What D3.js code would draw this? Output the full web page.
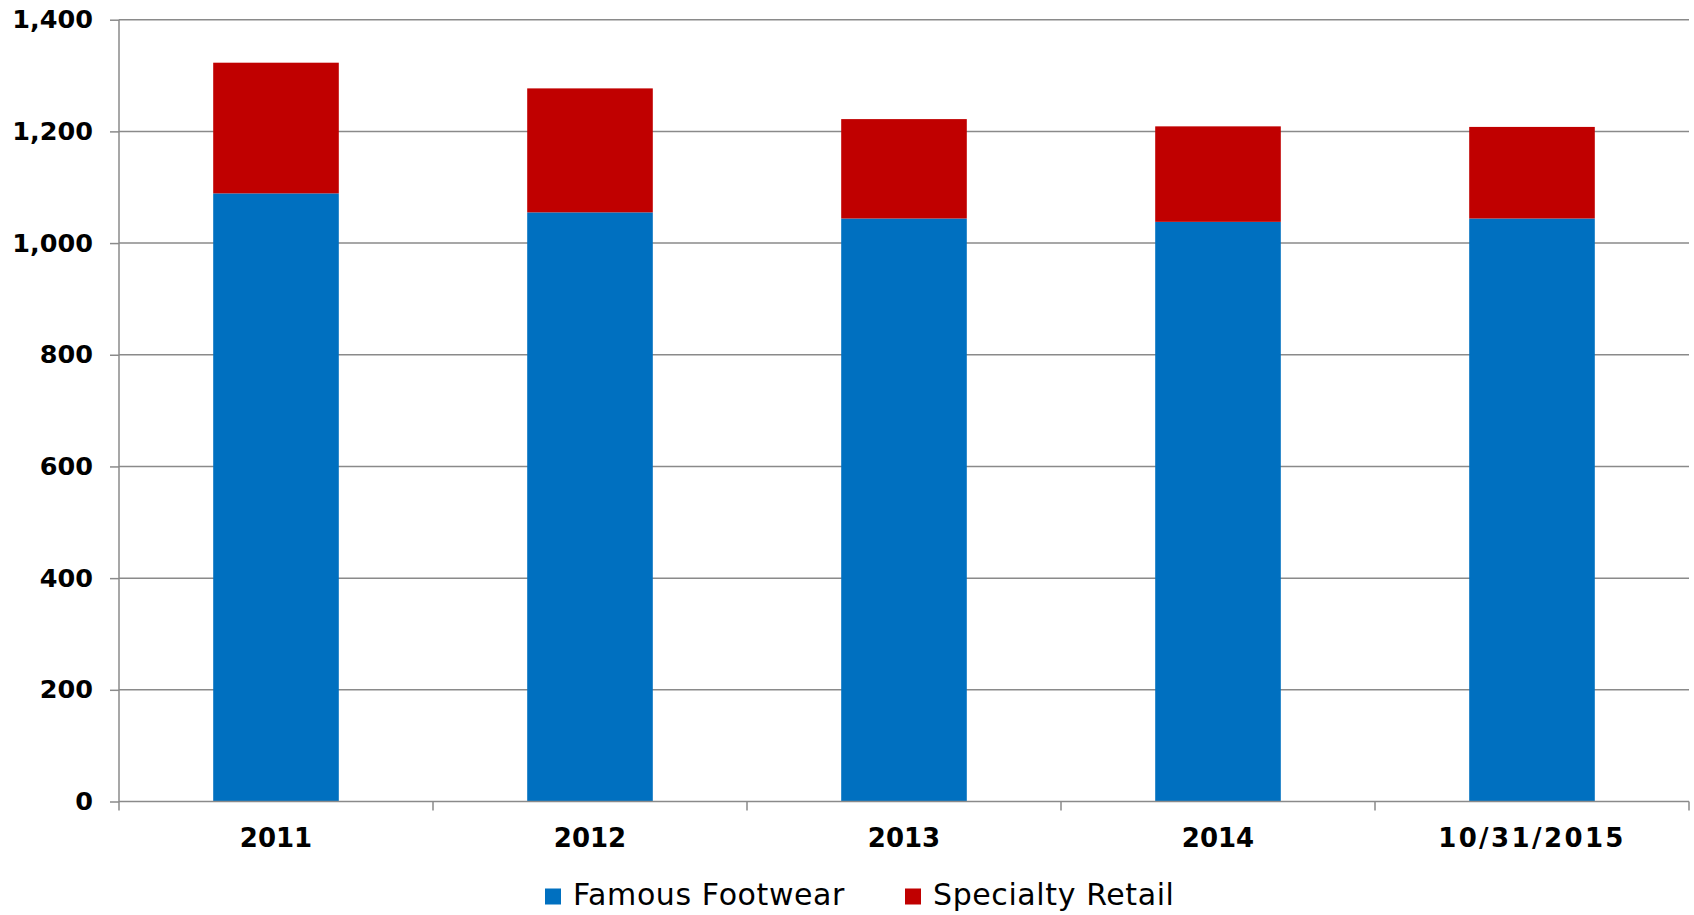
<!DOCTYPE html>
<html>
<head>
<meta charset="utf-8">
<script src="https://cdn.jsdelivr.net/npm/d3@7"></script>
<style>
  html, body { margin: 0; padding: 0; background: #ffffff; }
  svg { display: block; }
</style>
</head>
<body>
<svg id="chart" width="1694" height="915"></svg>
<script>
// ---- Data ----
const categories = ["2011", "2012", "2013", "2014", "10/31/2015"];
const famousFootwear = [1089, 1055, 1044, 1038, 1044];
const specialtyRetail = [234, 222, 178, 171, 164];
const seriesNames = ["Famous Footwear", "Specialty Retail"];
const seriesColors = ["#0070C0", "#C00000"];
const yTicks = [0, 200, 400, 600, 800, 1000, 1200, 1400];

// ---- Layout ----
const plotLeft = 119, plotRight = 1689, plotTop = 19.7, plotBottom = 801.5;
const svg = d3.select("#chart");

const x = d3.scaleBand().domain(categories).range([plotLeft, plotRight]).padding(0);
const y = d3.scaleLinear().domain([0, 1400]).range([plotBottom, plotTop]);

const gridColor = "#8a8a8a";

// gridlines
svg.append("g").selectAll("line")
  .data(yTicks.filter(d => d > 0))
  .join("line")
  .attr("x1", plotLeft).attr("x2", plotRight)
  .attr("y1", d => y(d)).attr("y2", d => y(d))
  .attr("stroke", gridColor).attr("stroke-width", 1.5);

// stacked data
const table = categories.map((c, i) => ({ cat: c, ff: famousFootwear[i], sr: specialtyRetail[i] }));
const stack = d3.stack().keys(["ff", "sr"])(table);

const barW = x.bandwidth() * 0.4;
const barOff = (x.bandwidth() - barW) / 2;

svg.append("g").selectAll("g")
  .data(stack)
  .join("g")
  .attr("fill", (d, i) => seriesColors[i])
  .selectAll("rect")
  .data(d => d)
  .join("rect")
  .attr("x", d => x(d.data.cat) + barOff)
  .attr("width", barW)
  .attr("y", d => y(d[1]))
  .attr("height", d => y(d[0]) - y(d[1]));

// y axis
const yAxis = d3.axisLeft(y).tickValues(yTicks).tickFormat(d3.format(",")).tickSize(9).tickPadding(17);
const gy = svg.append("g").attr("transform", `translate(${plotLeft},0)`).call(yAxis);
gy.select(".domain").remove();
gy.selectAll(".tick line").attr("stroke", gridColor).attr("stroke-width", 1.5);
gy.selectAll("text")
  .attr("font-family", "'DejaVu Sans', Verdana, sans-serif")
  .attr("font-weight", "bold")
  .attr("font-size", "25.5px")
  .attr("fill", "#000");
svg.append("line").attr("x1", plotLeft).attr("x2", plotLeft).attr("y1", plotTop).attr("y2", plotBottom + 9)
  .attr("stroke", gridColor).attr("stroke-width", 1.5);

// x axis
const xAxis = d3.axisBottom(x).tickSize(0).tickPadding(0);
const gx = svg.append("g").attr("transform", `translate(0,${plotBottom})`).call(xAxis);
gx.select(".domain").remove();
gx.selectAll("text")
  .attr("dy", null)
  .attr("y", 45.5)
  .attr("font-family", "'DejaVu Sans', Verdana, sans-serif")
  .attr("font-weight", "bold")
  .attr("font-size", "26px")
  .attr("letter-spacing", d => d.includes("/") ? "2.4px" : null)
  .attr("fill", "#000");
svg.append("line").attr("x1", plotLeft).attr("x2", plotRight).attr("y1", plotBottom).attr("y2", plotBottom)
  .attr("stroke", gridColor).attr("stroke-width", 1.5);
// category boundary ticks
const bounds = categories.map(c => x(c)).concat([x(categories[categories.length - 1]) + x.bandwidth()]);
svg.append("g").selectAll("line")
  .data(bounds.slice(1))
  .join("line")
  .attr("x1", d => d).attr("x2", d => d)
  .attr("y1", plotBottom).attr("y2", plotBottom + 9)
  .attr("stroke", gridColor).attr("stroke-width", 1.5);

// legend
const legendItems = [
  { name: seriesNames[0], color: seriesColors[0], x: 545 },
  { name: seriesNames[1], color: seriesColors[1], x: 905 }
];
const lg = svg.append("g").selectAll("g").data(legendItems).join("g")
  .attr("transform", d => `translate(${d.x},0)`);
lg.append("rect").attr("x", 0).attr("y", 888.5).attr("width", 16).attr("height", 16).attr("fill", d => d.color);
lg.append("text")
  .attr("x", 28).attr("y", 905)
  .attr("font-family", "'DejaVu Sans', Verdana, sans-serif")
  .attr("font-size", "30px")
  .attr("letter-spacing", "0.6px")
  .attr("fill", "#000")
  .text(d => d.name);
</script>
</body>
</html>
